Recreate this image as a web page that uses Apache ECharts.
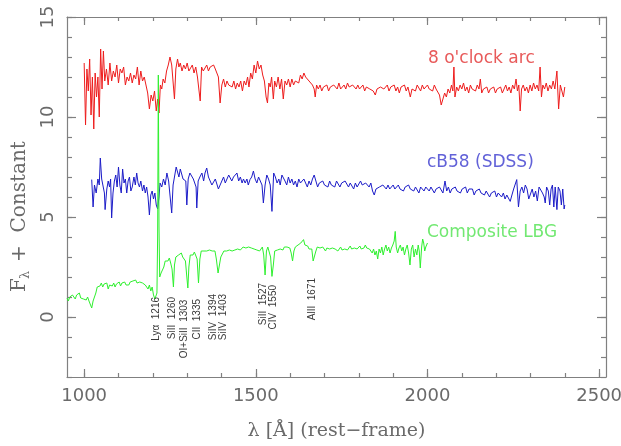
<!DOCTYPE html>
<html>
<head>
<meta charset="utf-8">
<script src="https://cdn.jsdelivr.net/npm/echarts@6/dist/echarts.min.js"></script>
<style>
  html, body { margin: 0; padding: 0; background: #fff; }
  #chart { width: 621px; height: 446px; }
</style>
</head>
<body>
<div id="chart"></div>
<script>
// Rest-frame spectra [wavelength in Å, flux + constant offset]
const arcSpectrum = [
  [1000,12.7],[1004,9.6],[1008,12.4],[1012,11.3],[1016,12.9],[1020,10.1],[1024,12.0],[1028,9.4],[1032,12.2],[1036,11.0],
  [1040,12.0],[1044,10.0],[1048,13.4],[1052,11.4],[1056,13.3],[1060,11.8],[1065,12.4],[1070,11.6],[1075,12.7],[1080,11.8],
  [1085,12.3],[1090,12.0],[1095,12.6],[1100,11.7],[1105,12.4],[1110,12.2],[1115,12.5],[1120,11.6],[1125,12.0],[1130,11.8],
  [1135,12.2],[1140,11.7],[1145,12.1],[1150,11.9],[1155,12.5],[1160,11.6],[1165,12.3],[1170,11.8],[1175,12.0],[1180,11.6],
  [1185,11.2],[1190,10.4],[1195,11.1],[1200,10.8],[1205,11.3],[1210,10.3],[1214,10.9],[1218,10.2],[1222,11.6],[1226,11.4],
  [1230,11.9],[1235,11.7],[1240,12.3],[1245,12.6],[1250,13.0],[1255,12.6],[1260,12.5],[1263,10.9],[1267,12.4],[1272,12.9],
  [1276,12.5],[1280,12.7],[1285,12.3],[1290,12.6],[1295,12.4],[1300,12.7],[1305,12.3],[1310,12.4],[1315,12.6],[1320,12.2],
  [1325,12.5],[1330,12.0],[1334,11.9],[1338,10.8],[1342,12.5],[1347,12.3],[1352,12.2],[1357,12.6],[1362,12.3],[1367,12.5],
  [1372,12.4],[1377,12.6],[1382,12.4],[1387,12.5],[1391,12.0],[1396,10.7],[1401,11.6],[1406,11.9],[1411,11.5],[1416,11.8],
  [1421,11.6],[1426,11.7],[1431,11.5],[1436,11.8],[1441,11.4],[1446,11.7],[1451,11.5],[1456,11.8],[1461,11.3],[1466,11.8],
  [1471,11.6],[1476,12.0],[1480,11.5],[1485,12.2],[1490,11.9],[1495,12.6],[1500,12.2],[1505,12.8],[1510,12.4],[1515,12.6],
  [1520,12.1],[1525,11.8],[1530,11.0],[1534,10.7],[1538,11.7],[1542,11.5],[1546,12.0],[1551,10.9],[1555,11.8],[1560,11.5],
  [1565,12.0],[1570,11.4],[1575,11.9],[1580,10.9],[1585,11.8],[1590,11.6],[1595,11.9],[1600,11.5],[1605,11.9],[1610,11.6],
  [1615,11.8],[1620,11.9],[1625,11.7],[1630,12.1],[1635,11.9],[1640,12.2],[1645,12.0],[1650,12.1],[1655,11.8],[1660,11.9],
  [1665,11.6],[1670,11.4],[1673,11.0],[1677,11.6],[1682,11.4],[1687,11.6],[1692,11.3],[1697,11.5],[1702,11.4],[1707,11.6],
  [1712,11.3],[1717,11.5],[1722,11.4],[1727,11.6],[1732,11.5],[1737,11.4],[1742,11.7],[1747,11.4],[1752,11.5],[1757,11.6],
  [1762,11.4],[1767,11.7],[1772,11.5],[1777,11.4],[1782,11.6],[1787,11.5],[1792,11.4],[1797,11.6],[1802,11.4],[1807,11.5],
  [1812,11.6],[1817,11.3],[1822,11.5],[1827,11.6],[1832,11.4],[1837,11.5],[1842,11.3],[1848,11.1],[1853,11.4],[1858,11.3],
  [1863,11.5],[1868,11.6],[1873,11.4],[1878,11.5],[1883,11.6],[1888,11.3],[1893,11.5],[1898,11.4],[1903,11.6],[1908,11.3],
  [1913,11.5],[1918,11.2],[1923,11.5],[1928,11.4],[1933,11.6],[1938,11.3],[1943,11.5],[1950,11.0],[1955,11.4],[1960,11.5],
  [1965,11.3],[1970,11.6],[1975,11.5],[1980,11.3],[1985,11.6],[1990,11.4],[1995,11.5],[2000,11.6],[2005,11.4],[2010,11.5],
  [2015,11.3],[2020,11.6],[2025,11.4],[2030,11.5],[2035,11.1],[2040,10.6],[2045,10.5],[2050,11.2],[2055,11.0],[2060,11.4],
  [2065,11.2],[2070,11.6],[2074,11.3],[2077,12.5],[2080,11.0],[2085,11.5],[2090,11.3],[2095,11.6],[2100,11.4],[2105,11.7],
  [2110,11.3],[2115,11.5],[2120,11.2],[2125,11.6],[2130,11.4],[2135,11.5],[2140,11.3],[2145,11.6],[2150,11.4],[2154,11.9],
  [2158,11.2],[2163,11.4],[2168,11.3],[2173,11.5],[2178,11.2],[2183,11.4],[2188,11.3],[2193,11.5],[2198,11.2],[2203,11.4],
  [2208,11.3],[2213,11.5],[2218,11.2],[2223,11.4],[2228,11.6],[2233,11.3],[2238,11.5],[2243,11.2],[2248,11.6],[2253,11.4],
  [2258,11.9],[2262,11.3],[2266,11.6],[2270,10.3],[2274,11.4],[2279,11.6],[2284,11.3],[2289,11.5],[2294,11.2],[2299,11.6],
  [2304,11.3],[2309,11.7],[2314,11.4],[2319,11.6],[2324,11.3],[2328,12.5],[2332,11.0],[2336,11.6],[2341,11.4],[2346,11.7],
  [2351,11.3],[2356,11.6],[2361,11.4],[2366,11.8],[2371,11.4],[2377,12.3],[2382,10.4],[2387,11.6],[2391,11.7],[2396,11.0],
  [2400,11.5]
];

const cb58Spectrum = [
  [1022,6.87],[1026,5.5],[1030,6.6],[1035,6.2],[1040,6.9],[1044,6.6],[1047,7.95],[1051,6.9],[1055,7.0],[1059,6.2],
  [1061,5.37],[1066,6.4],[1070,6.8],[1074,6.5],[1077,6.9],[1080,4.95],[1084,6.2],[1088,6.8],[1092,7.1],[1096,6.5],
  [1100,7.5],[1104,6.6],[1108,6.2],[1112,7.4],[1116,6.7],[1120,6.9],[1124,6.2],[1128,6.8],[1132,7.0],[1136,6.3],
  [1140,6.5],[1145,7.0],[1149,6.6],[1153,7.2],[1157,6.7],[1161,6.5],[1165,6.8],[1170,6.3],[1174,6.6],[1178,6.2],
  [1182,6.5],[1186,6.0],[1190,5.1],[1194,6.1],[1198,6.3],[1202,5.9],[1206,6.2],[1210,5.6],[1214,5.4],[1218,6.0],
  [1221,6.7],[1226,6.5],[1231,6.9],[1236,6.6],[1241,7.2],[1246,6.8],[1251,6.9],[1255,5.2],[1259,6.6],[1264,7.1],
  [1268,7.5],[1272,7.6],[1276,7.0],[1280,7.4],[1284,7.5],[1288,6.9],[1292,7.0],[1296,6.8],[1299,5.6],[1303,6.9],
  [1308,7.2],[1313,7.3],[1318,6.9],[1322,7.0],[1326,6.5],[1328,5.45],[1332,6.8],[1337,7.0],[1343,7.2],[1348,6.8],
  [1352,7.2],[1357,7.45],[1362,7.0],[1367,6.9],[1372,6.6],[1377,6.5],[1382,6.9],[1386,6.8],[1391,6.4],[1396,6.6],
  [1401,6.8],[1406,7.0],[1411,6.7],[1416,6.9],[1421,7.1],[1425,7.2],[1430,6.8],[1435,7.0],[1440,6.9],[1445,7.2],
  [1450,6.8],[1455,7.0],[1460,6.7],[1464,6.9],[1469,6.7],[1474,6.9],[1478,6.6],[1483,6.87],[1488,7.0],[1493,7.3],
  [1498,6.9],[1503,6.7],[1508,7.0],[1513,6.8],[1518,6.6],[1522,5.7],[1527,6.6],[1532,7.1],[1537,6.9],[1542,6.6],
  [1547,5.28],[1552,7.2],[1557,7.0],[1562,6.7],[1567,6.9],[1571,6.6],[1576,7.1],[1580,7.0],[1585,6.8],[1590,6.6],
  [1595,7.0],[1600,6.7],[1605,6.9],[1610,6.6],[1615,6.8],[1620,6.5],[1625,6.9],[1630,6.7],[1635,6.6],[1640,6.9],
  [1645,6.7],[1650,6.5],[1655,6.8],[1660,6.6],[1665,6.9],[1670,7.1],[1675,6.8],[1680,6.5],[1685,6.7],[1690,6.6],
  [1695,6.8],[1700,6.6],[1705,6.7],[1710,6.5],[1715,6.8],[1720,6.6],[1725,6.7],[1730,6.5],[1735,6.8],[1740,6.7],
  [1745,6.5],[1750,6.7],[1755,6.6],[1760,6.8],[1765,6.7],[1770,6.5],[1775,6.7],[1780,6.6],[1785,6.4],[1790,6.7],
  [1795,6.5],[1800,6.6],[1805,6.8],[1810,6.6],[1815,6.5],[1820,6.7],[1825,6.6],[1830,6.5],[1835,6.7],[1840,6.3],
  [1845,6.1],[1850,6.4],[1855,6.3],[1860,6.5],[1865,6.4],[1870,6.6],[1875,6.5],[1880,6.4],[1885,6.6],[1890,6.4],
  [1895,6.5],[1900,6.6],[1905,6.4],[1910,6.5],[1915,6.6],[1920,6.4],[1925,6.5],[1930,6.3],[1935,6.5],[1940,6.4],
  [1945,6.6],[1950,6.4],[1955,6.5],[1960,6.3],[1965,6.5],[1970,6.4],[1975,6.2],[1980,6.5],[1985,6.4],[1990,6.3],
  [1995,6.5],[2000,6.4],[2005,6.3],[2010,6.5],[2015,6.4],[2020,6.2],[2025,6.4],[2030,6.3],[2035,6.5],[2040,6.4],
  [2045,6.2],[2051,6.8],[2056,6.3],[2061,6.5],[2066,6.2],[2071,6.4],[2076,6.3],[2081,6.5],[2086,6.3],[2091,6.4],
  [2096,6.2],[2101,6.4],[2106,6.3],[2111,6.5],[2116,6.2],[2121,6.4],[2126,6.3],[2131,6.4],[2136,6.1],[2141,6.3],
  [2146,6.2],[2151,6.4],[2156,6.2],[2161,6.3],[2166,6.1],[2171,6.3],[2176,6.2],[2181,6.0],[2186,6.2],[2191,6.1],
  [2196,6.3],[2201,6.0],[2206,6.2],[2211,6.1],[2216,6.0],[2221,6.2],[2226,5.9],[2231,6.1],[2236,6.0],[2241,5.78],
  [2246,6.1],[2251,6.4],[2256,6.3],[2260,6.87],[2265,5.5],[2270,6.3],[2275,6.5],[2280,6.2],[2285,6.6],[2290,6.4],
  [2295,5.9],[2300,6.0],[2305,6.4],[2310,6.0],[2315,6.3],[2320,5.8],[2325,6.5],[2330,6.6],[2335,6.2],[2340,6.0],
  [2343,5.7],[2347,6.5],[2352,6.3],[2356,5.6],[2360,6.4],[2364,6.6],[2368,5.5],[2372,6.5],[2377,5.37],[2381,6.5],
  [2386,6.3],[2390,5.6],[2394,6.4],[2398,5.4],[2400,5.6]
];

const lbgSpectrum = [
  [950,0.95],[954,0.8],[958,1.0],[962,0.9],[966,1.1],[970,1.05],[974,0.9],[978,1.1],[982,1.0],[986,1.2],
  [990,0.95],[994,1.05],[998,0.9],[1002,1.0],[1006,0.85],[1010,1.0],[1014,0.8],[1018,0.7],[1022,0.45],[1026,0.8],
  [1030,1.0],[1034,1.2],[1038,1.5],[1042,1.6],[1046,1.55],[1050,1.7],[1054,1.5],[1058,1.65],[1062,1.55],[1066,1.7],
  [1070,1.4],[1074,1.6],[1078,1.7],[1082,1.55],[1086,1.7],[1090,1.5],[1094,1.65],[1098,1.6],[1102,1.75],[1106,1.55],
  [1110,1.7],[1114,1.6],[1118,1.75],[1122,1.6],[1126,1.7],[1130,1.6],[1134,1.75],[1138,1.65],[1142,1.8],[1146,1.7],
  [1150,1.85],[1154,1.7],[1158,1.8],[1162,1.75],[1166,1.85],[1170,1.7],[1174,1.8],[1178,1.6],[1182,1.7],[1186,1.4],
  [1190,1.6],[1194,1.3],[1198,1.5],[1202,1.1],[1206,0.9],[1209,1.0],[1212,1.2],[1214,4.0],[1216,12.1],[1218,4.5],
  [1220,2.0],[1224,2.2],[1228,2.3],[1232,2.5],[1236,2.8],[1240,2.9],[1244,2.8],[1248,2.95],[1252,2.7],[1256,2.4],
  [1260,1.5],[1263,2.6],[1267,3.0],[1271,2.9],[1275,3.1],[1279,3.0],[1283,3.2],[1287,3.0],[1291,3.1],[1295,2.8],
  [1299,2.0],[1302,1.45],[1305,2.5],[1309,3.1],[1313,3.2],[1317,3.1],[1321,3.25],[1325,3.2],[1329,2.9],[1333,1.7],
  [1337,2.9],[1341,3.3],[1345,3.2],[1349,3.3],[1353,3.25],[1357,3.3],[1361,3.2],[1365,3.35],[1369,3.25],[1373,3.3],
  [1377,3.2],[1381,3.3],[1385,2.9],[1390,2.2],[1394,2.6],[1398,3.0],[1403,2.9],[1407,3.3],[1411,3.35],[1415,3.3],
  [1419,3.4],[1423,3.35],[1427,3.4],[1431,3.3],[1435,3.4],[1439,3.35],[1443,3.45],[1447,3.4],[1451,3.45],[1455,3.35],
  [1459,3.4],[1463,3.5],[1467,3.4],[1471,3.45],[1475,3.35],[1479,3.5],[1483,3.4],[1487,3.45],[1491,3.35],[1495,3.4],
  [1499,3.3],[1503,3.35],[1507,3.45],[1511,3.3],[1515,3.4],[1519,3.5],[1523,3.1],[1527,2.1],[1531,3.3],[1535,3.5],
  [1539,3.4],[1543,3.0],[1547,2.03],[1551,2.6],[1555,3.3],[1559,3.4],[1563,3.35],[1567,3.45],[1571,3.4],[1575,3.5],
  [1579,3.35],[1583,3.5],[1587,3.45],[1591,3.5],[1595,3.4],[1599,3.45],[1603,3.2],[1607,2.8],[1611,3.3],[1615,3.5],
  [1619,3.45],[1623,3.6],[1627,3.55],[1631,3.7],[1635,3.75],[1639,3.87],[1643,3.6],[1647,3.5],[1651,3.55],[1655,3.4],
  [1659,3.5],[1663,3.4],[1667,2.8],[1671,2.7],[1675,3.3],[1679,3.5],[1683,3.4],[1687,3.45],[1691,3.35],[1695,3.5],
  [1699,3.4],[1703,3.3],[1707,3.45],[1711,3.35],[1715,3.4],[1719,3.3],[1723,3.45],[1727,3.35],[1731,3.4],[1735,3.45],
  [1739,3.3],[1743,3.4],[1747,3.5],[1751,3.35],[1755,3.45],[1759,3.4],[1763,3.5],[1767,3.35],[1771,3.45],[1775,3.55],
  [1779,3.4],[1783,3.5],[1787,3.45],[1791,3.55],[1795,3.4],[1799,3.5],[1803,3.55],[1807,3.4],[1811,3.5],[1815,3.45],
  [1819,3.6],[1823,3.45],[1827,3.5],[1831,3.4],[1835,3.5],[1839,3.2],[1843,3.4],[1847,3.1],[1851,3.3],[1855,2.9],
  [1859,3.4],[1863,3.2],[1867,3.5],[1871,3.1],[1875,3.4],[1879,3.6],[1883,3.3],[1887,3.5],[1891,3.2],[1895,3.45],
  [1899,3.6],[1903,3.8],[1906,4.28],[1909,3.5],[1913,3.2],[1917,3.45],[1921,3.6],[1925,3.3],[1929,3.5],[1933,3.1],
  [1937,3.4],[1941,3.6],[1945,3.2],[1949,2.6],[1953,3.4],[1957,3.6],[1961,3.0],[1965,3.4],[1969,3.1],[1973,3.6],
  [1976,3.3],[1979,2.45],[1983,3.5],[1986,3.9],[1989,3.7],[1992,3.3],[1995,3.5],[1998,3.6],[2000,3.7]
];

// Interstellar absorption / Lyα identifications
const lineWaves = [1216, 1260, 1303, 1335, 1394, 1403, 1527, 1550, 1671];
const lineNames = ['Lyα  1216', 'SiII  1260', 'OI+SiII  1303', 'CII  1335', 'SiIV  1394',
                   'SiIV  1403', 'SiII  1527', 'CIV  1550', 'AlII  1671'];

// Axis tick values
const xMajorTicks = [1000, 1500, 2000, 2500];
const xMinorTicks = [1000, 1100, 1200, 1300, 1400, 1500, 1600, 1700, 1800, 1900,
                     2000, 2100, 2200, 2300, 2400, 2500];
const yMajorTicks = [0, 5, 10, 15];
const yMinorTicks = [-3, -2, -1, 0, 1, 2, 3, 4, 5, 6, 7, 8, 9, 10, 11, 12, 13, 14, 15];

const spectrumNames = ['8 o\'clock arc', 'cB58 (SDSS)', 'Composite LBG'];

// Label anchors (upper end of each rotated identification, in flux units) and nudges in px
const labelTop = [1.0, 1.0, 0.87, 0.9, 1.15, 1.15, 1.7, 1.6, 1.95];
const labelNudge = [-2, -1, -4, -2, -6, 1, -2, 0, -2];

const AXIS_COLOR = '#808080';
const LABEL_COLOR = '#6a6a6a';
const X_MIN = 950, X_MAX = 2520, Y_MIN = -3, Y_MAX = 15;

function plainNumber(v) { return String(v); }

function xAxisDef(position, ticks, len, showLine, showLabel) {
  return {
    type: 'value', position: position, min: X_MIN, max: X_MAX,
    axisLine: { show: showLine, onZero: false, lineStyle: { color: AXIS_COLOR, width: 1.2 } },
    axisTick: { show: true, inside: true, length: len, customValues: ticks,
                lineStyle: { color: AXIS_COLOR, width: 1.2 } },
    axisLabel: { show: showLabel, customValues: ticks, margin: 10, color: LABEL_COLOR,
                 fontFamily: 'DejaVu Sans', fontSize: 18, formatter: plainNumber,
                 showMinLabel: true, showMaxLabel: true, hideOverlap: false },
    splitLine: { show: false }
  };
}
function yAxisDef(position, ticks, len, showLine, showLabel) {
  return {
    type: 'value', position: position, min: Y_MIN, max: Y_MAX,
    axisLine: { show: showLine, onZero: false, lineStyle: { color: AXIS_COLOR, width: 1.2 } },
    axisTick: { show: true, inside: true, length: len, customValues: ticks,
                lineStyle: { color: AXIS_COLOR, width: 1.2 } },
    axisLabel: { show: showLabel, customValues: ticks, rotate: 90, margin: 10, color: LABEL_COLOR,
                 fontFamily: 'DejaVu Sans', fontSize: 18, formatter: plainNumber },
    splitLine: { show: false }
  };
}

const chart = echarts.init(document.getElementById('chart'), null, { renderer: 'canvas' });

const xBottom = xAxisDef('bottom', xMajorTicks, 8, true, true);
xBottom.name = 'λ [Å] (rest−frame)';
xBottom.nameLocation = 'middle';
xBottom.nameGap = 45;
xBottom.nameTextStyle = { fontFamily: 'DejaVu Serif', fontSize: 19, color: LABEL_COLOR };

function lineSeries(name, data, color) {
  return {
    type: 'line', name: name, data: data, xAxisIndex: 0, yAxisIndex: 0,
    showSymbol: false, symbol: 'none', silent: true,
    lineStyle: { color: color, width: 1 }, z: 3
  };
}

chart.setOption({
  animation: false,
  backgroundColor: '#ffffff',
  grid: { left: 67, top: 17, width: 539, height: 360, containLabel: false, outerBoundsMode: 'none' },
  xAxis: [
    xBottom,
    xAxisDef('bottom', xMinorTicks, 4, false, false),
    xAxisDef('top', xMajorTicks, 8, true, false),
    xAxisDef('top', xMinorTicks, 4, false, false)
  ],
  yAxis: [
    yAxisDef('left', yMajorTicks, 9, true, true),
    yAxisDef('left', yMinorTicks, 5, false, false),
    yAxisDef('right', yMajorTicks, 9, true, false),
    yAxisDef('right', yMinorTicks, 5, false, false)
  ],
  series: [
    lineSeries(spectrumNames[0], arcSpectrum, '#ee1c1c'),
    lineSeries(spectrumNames[1], cb58Spectrum, '#1c1cc8'),
    lineSeries(spectrumNames[2], lbgSpectrum, '#2ef02e'),
    {
      type: 'custom', xAxisIndex: 0, yAxisIndex: 0, silent: true, z: 4,
      data: lineWaves.map(function (w, i) { return [w, labelTop[i]]; }),
      renderItem: function (params, api) {
        const i = params.dataIndex;
        const p = api.coord([api.value(0), api.value(1)]);
        return {
          type: 'text', x: p[0] + labelNudge[i], y: p[1], rotation: Math.PI / 2,
          style: { text: lineNames[i], align: 'right', verticalAlign: 'middle',
                   font: '10px "Liberation Sans", sans-serif', fill: '#3a3a3a' }
        };
      }
    }
  ],
  graphic: [
    { type: 'text', left: 428, top: 50,
      style: { text: spectrumNames[0], font: '17px "DejaVu Sans"', fill: '#e85a5a' } },
    { type: 'text', left: 427, top: 154,
      style: { text: spectrumNames[1], font: '17px "DejaVu Sans"', fill: '#6262d8' } },
    { type: 'text', left: 427, top: 224,
      style: { text: spectrumNames[2], font: '17px "DejaVu Sans"', fill: '#72e872' } },
    { type: 'group', x: 20, y: 292, rotation: Math.PI / 2,
      children: [
        { type: 'text', x: 0, y: 0,
          style: { text: 'F', font: '20px "DejaVu Serif"', fill: LABEL_COLOR, verticalAlign: 'middle' } },
        { type: 'text', x: 13, y: 6,
          style: { text: 'λ', font: '13px "DejaVu Serif"', fill: LABEL_COLOR, verticalAlign: 'middle' } },
        { type: 'text', x: 30, y: 0,
          style: { text: '+  Constant', font: '20px "DejaVu Serif"', fill: LABEL_COLOR, verticalAlign: 'middle' } }
      ]
    }
  ]
});
</script>
</body>
</html>
